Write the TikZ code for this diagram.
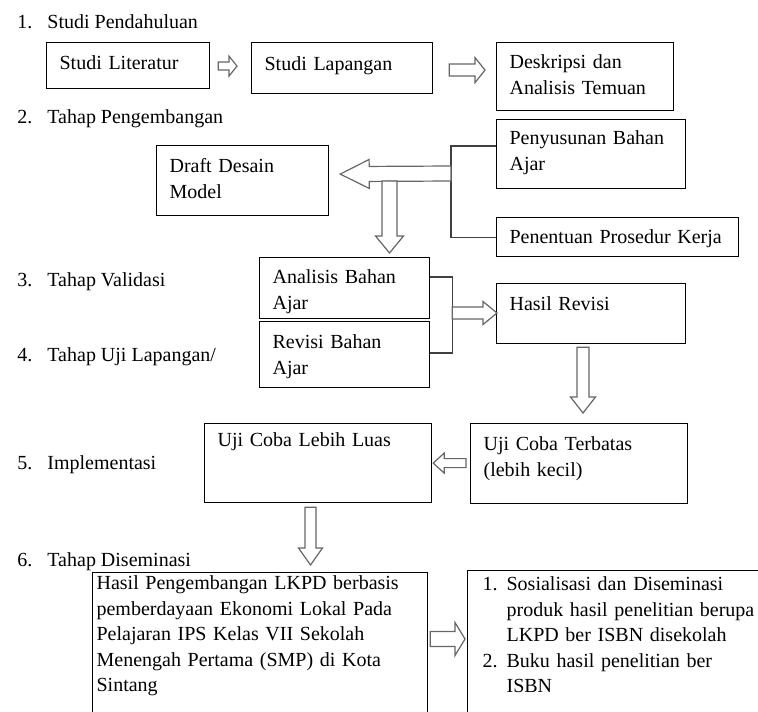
\documentclass[tikz,border=0pt]{standalone}
\usepackage{fontspec}
\setmainfont{Liberation Serif}
\usetikzlibrary{calc}

\tikzset{
  box/.style={draw, line width=0.6pt, anchor=north west, align=left,
    inner xsep=6.5pt, inner ysep=0pt, font=\fontsize{10}{13}\selectfont},
  stage/.style={anchor=base west, inner sep=0pt, font=\fontsize{10}{13}\selectfont},
  hollow/.style={draw=black!60, fill=white, line width=0.6pt},
  link/.style={draw=black!75, line width=0.6pt}
}

% block arrow: tail, tip, half shaft, half head, head length
\newcommand{\harrow}[5]{%
  \path (#1) coordinate (ht) (#2) coordinate (hp) ($(hp)!#5!(ht)$) coordinate (hq);
  \draw [hollow] ($(ht)!#3!90:(hp)$) -- ($(hq)!#3!-90:(ht)$) -- ($(hq)!#4!-90:(ht)$)
    -- (hp) -- ($(hq)!#4!90:(ht)$) -- ($(hq)!#3!90:(ht)$) -- ($(ht)!#3!-90:(hp)$) -- cycle;
}

\begin{document}
\begin{tikzpicture}[x=0.5pt,y=-0.5pt]
\useasboundingbox (0,0) rectangle (758,711);
\clip (0,0) rectangle (758,711);

% stages
\node [stage] (s1) at (17,29) {\makebox[15pt][l]{1.}Studi Pendahuluan};
\node [stage] (s2) at (17,124) {\makebox[15pt][l]{2.}Tahap Pengembangan};
\node [stage] (s3) at (17,286) {\makebox[15pt][l]{3.}Tahap Validasi};
\node [stage] (s4) at (17,361) {\makebox[15pt][l]{4.}Tahap Uji Lapangan/};
\node [stage] (s5) at (17,469) {\makebox[15pt][l]{5.}Implementasi};
\node [stage] (s6) at (17,566) {\makebox[15pt][l]{6.}Tahap Diseminasi};

% boxes
\node [box, text width=68.5pt, text height=13.5pt, text depth=9.5pt] (lit) at (46,42) {Studi Literatur};
\node [box, text width=77.5pt, text height=14pt, text depth=11.5pt] (lap) at (251,42) {Studi Lapangan};
\node [box, text width=75.5pt, text height=13pt, text depth=21pt] (des) at (496,42) {Deskripsi dan\\Analisis Temuan};
\node [box, text width=81.5pt, text height=12.5pt, text depth=22pt] (pen) at (496,119) {Penyusunan Bahan\\Ajar};
\node [box, text width=108pt, text height=13pt, text depth=6.5pt] (pro) at (496,217) {Penentuan Prosedur Kerja};
\node [box, text width=73pt, text height=13.5pt, text depth=21.5pt] (dra) at (156,145) {Draft Desain\\Model};
\node [box, text width=72pt, text height=13pt, text depth=17.5pt] (ana) at (259,257) {Analisis Bahan\\Ajar};
\node [box, text width=72pt, text height=13.5pt, text depth=19.5pt] (rev) at (259,321) {Revisi Bahan\\Ajar};
\node [box, text width=81.5pt, text height=13.5pt, text depth=16.5pt] (has) at (496,283) {Hasil Revisi};
\node [box, text width=95.5pt, text height=13.5pt, text depth=26.5pt] (ter) at (470,423) {Uji Coba Terbatas\\(lebih kecil)};
\node [box, text width=100.5pt, text height=11.5pt, text depth=28pt] (lua) at (204,423) {Uji Coba Lebih Luas};
\node [box, inner xsep=2pt, text width=163.5pt, text height=8.5pt, text depth=66.5pt,
  font=\fontsize{10}{12.75}\selectfont] (lkp) at (92,572)
  {Hasil Pengembangan LKPD berbasis\\pemberdayaan Ekonomi Lokal Pada\\Pelajaran IPS Kelas VII Sekolah\\Menengah Pertama (SMP) di Kota\\Sintang};
\node [box, inner xsep=7.5pt, text width=145pt, text height=10pt, text depth=75pt,
  font=\fontsize{10}{12.75}\selectfont] (isb) at (467,570)
  {\makebox[12pt][l]{1.}Sosialisasi dan Diseminasi\\\hspace*{12pt}produk hasil penelitian berupa\\\hspace*{12pt}LKPD ber ISBN disekolah\\\makebox[12pt][l]{2.}Buku hasil penelitian ber\\\hspace*{12pt}ISBN};

% forks
\draw [link] ($(pen.north west)+(0,27)$) -- ++(-45,0) coordinate (fork1) |- (pro.west);
\draw [link] ($(ana.north east)+(0,20)$) -- ++(22,0) coordinate (fork2) |- ($(rev.north east)+(0,32)$);

% arrows
\harrow{$(lit.east)+(8,0.5)$}{$(lap.west|-lit.east)+(-14,0.5)$}{2pt}{5pt}{4pt}
\harrow{$(lap.east)+(16,2)$}{$(des.west|-lap.east)+(-11,2)$}{3pt}{6.25pt}{5pt}
\harrow{$(fork1)+(0,27.5)$}{$(dra.east)+(11,-6.5)$}{3.75pt}{7.25pt}{14.5pt}
\harrow{$(ana.north west)+(130.5,-76)$}{$(ana.north west)+(130.5,-4)$}{3.75pt}{7pt}{8.5pt}
\harrow{$(fork2)+(0,36)$}{$(has.north west)+(1,30)$}{3pt}{5.75pt}{7pt}
\harrow{$(has.south west)+(87,3)$}{$(ter.north west)+(113,-10)$}{3pt}{6.25pt}{8pt}
\harrow{$(ter.west)+(-4,-0.5)$}{$(lua.east)+(1,0)$}{2.25pt}{5pt}{5.5pt}
\harrow{$(lua.south west)+(106.5,4)$}{$(lkp.north west)+(218.5,-7)$}{2.75pt}{6pt}{8.5pt}
\harrow{$(lkp.north east)+(2,67)$}{$(isb.north west)+(-2,69)$}{3.75pt}{8.25pt}{5pt}
\end{tikzpicture}
\end{document}
